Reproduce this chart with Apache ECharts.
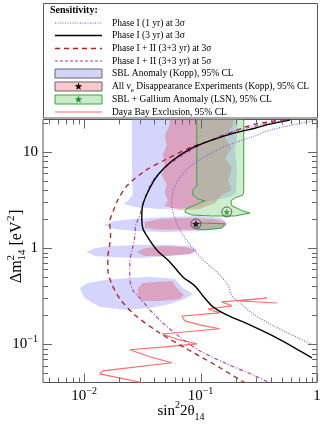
<!DOCTYPE html>
<html>
<head>
<meta charset="utf-8">
<script src="https://cdn.jsdelivr.net/npm/echarts@6/dist/echarts.min.js"></script>
<style>
html, body { margin: 0; padding: 0; background: #fff; }
#chart { width: 324px; height: 425px; }
</style>
</head>
<body>
<div id="chart"></div>
<script>
// axis ranges
const xMin = 0.00444, xMax = 1;
const yMin = 0.04, yMax = 21.8;

// tick values
const xMajorTicks = [0.01, 0.1, 1];
const xMinorTicks = [0.005, 0.006, 0.007, 0.008, 0.009, 0.02, 0.03, 0.04, 0.05, 0.06, 0.07, 0.08, 0.09,
  0.2, 0.3, 0.4, 0.5, 0.6, 0.7, 0.8, 0.9];
const yMajorTicks = [0.1, 1, 10];
const yMinorTicks = [0.05, 0.06, 0.07, 0.08, 0.09, 0.2, 0.3, 0.4, 0.5, 0.6, 0.7, 0.8, 0.9,
  2, 3, 4, 5, 6, 7, 8, 9, 20];

// sensitivity curves [sin^2 2theta, dm^2]
const phase1yr1 = [[1.0, 21.5], [0.671, 19.5], [0.394, 16.9], [0.293, 14.7], [0.172, 11.8], [0.116, 9.31],
  [0.0841, 7.33], [0.0664, 5.37], [0.0578, 3.93], [0.0567, 2.81], [0.0601, 2.06], [0.069, 1.44],
  [0.0841, 1.03], [0.105, 0.753], [0.138, 0.566], [0.172, 0.414], [0.186, 0.318], [0.218, 0.269],
  [0.282, 0.207], [0.394, 0.163], [0.585, 0.128], [0.923, 0.0986]];
const phase1yr3 = [[0.585, 21.5], [0.394, 19.5], [0.293, 17.7], [0.197, 15.8], [0.125, 13.3], [0.0841, 11.0],
  [0.0567, 8.06], [0.043, 5.77], [0.0367, 4.23], [0.0319, 2.81], [0.0313, 2.06], [0.0319, 1.62],
  [0.0346, 1.34], [0.0421, 0.957], [0.0545, 0.719], [0.0705, 0.502], [0.0893, 0.405], [0.105, 0.318],
  [0.128, 0.245], [0.168, 0.202], [0.265, 0.159], [0.418, 0.122], [0.621, 0.094], [0.904, 0.0723]];
const phase12sig3 = [[0.53, 21.8], [0.293, 19.5], [0.226, 17.7], [0.141, 14.0], [0.0841, 11.3], [0.0493, 8.26],
  [0.0332, 6.34], [0.0233, 4.44], [0.0195, 3.17], [0.0177, 2.38], [0.0166, 1.87], [0.0169, 1.37],
  [0.0166, 1.08], [0.016, 0.811], [0.016, 0.593], [0.0173, 0.425], [0.0203, 0.297], [0.0273, 0.202],
  [0.043, 0.135], [0.0733, 0.0918], [0.133, 0.0611], [0.24, 0.0397]];
const phase12sig5 = [[0.528, 21.5], [0.293, 18.6], [0.197, 16.5], [0.133, 14.0], [0.0893, 11.0], [0.0642, 8.67],
  [0.0493, 6.82], [0.0389, 5.0], [0.0332, 3.33], [0.0301, 2.21], [0.0278, 1.74], [0.0273, 1.31],
  [0.0262, 1.03], [0.0247, 0.701], [0.0247, 0.49], [0.0262, 0.367], [0.0301, 0.303], [0.0367, 0.228],
  [0.0474, 0.167], [0.0664, 0.119], [0.0986, 0.0853], [0.168, 0.0625], [0.281, 0.0481], [0.378, 0.0406]];
const dayaBay = [[0.0313, 0.04], [0.0136, 0.0492], [0.0145, 0.0528], [0.0566, 0.0641], [0.0367, 0.074],
  [0.0247, 0.0875], [0.0493, 0.094], [0.0929, 0.101], [0.0664, 0.111], [0.0466, 0.128], [0.146, 0.145],
  [0.0986, 0.159], [0.0733, 0.175], [0.069, 0.197], [0.146, 0.212], [0.116, 0.233], [0.186, 0.251],
  [0.152, 0.276], [0.372, 0.303], [0.218, 0.282], [0.453, 0.269]];

// allowed regions (95% CL)
const sblRegions = [
  [[0.0257, 24.3], [0.0257, 8.26], [0.0262, 3.57], [0.0237, 3.1], [0.0219, 2.88], [0.0273, 2.68], [0.0447, 2.55],
   [0.0809, 2.62], [0.0986, 2.95], [0.133, 3.17], [0.179, 3.4], [0.201, 3.75], [0.205, 6.5], [0.197, 10.5],
   [0.209, 16.9], [0.205, 24.3]],
  [[0.0148, 1.74], [0.0184, 1.92], [0.0273, 2.01], [0.0493, 2.11], [0.0986, 2.16], [0.152, 2.06], [0.172, 1.79],
   [0.152, 1.58], [0.0986, 1.51], [0.0493, 1.47], [0.0273, 1.51], [0.0184, 1.58]],
  [[0.0105, 0.912], [0.0124, 1.0], [0.0166, 1.05], [0.0301, 1.08], [0.0545, 1.08], [0.0809, 1.05], [0.0948, 0.957],
   [0.0841, 0.87], [0.0545, 0.83], [0.0301, 0.791], [0.0166, 0.811], [0.0124, 0.83]],
  [[0.00918, 0.386], [0.0108, 0.435], [0.0151, 0.467], [0.0247, 0.49], [0.0367, 0.502], [0.0601, 0.479],
   [0.069, 0.395], [0.0859, 0.334], [0.0733, 0.296], [0.0545, 0.263], [0.0367, 0.239], [0.0224, 0.228],
   [0.0136, 0.245], [0.0101, 0.303]]
];
const nueRegions = [
  [[0.0545, 24.3], [0.0545, 19.1], [0.0493, 15.0], [0.0513, 11.8], [0.0474, 9.31], [0.0493, 7.33], [0.0465, 5.77],
   [0.0513, 4.54], [0.0493, 3.84], [0.0523, 3.1], [0.0493, 2.75], [0.0664, 2.49], [0.0986, 2.55], [0.133, 2.95],
   [0.152, 3.57], [0.186, 4.03], [0.172, 5.0], [0.186, 6.82], [0.162, 8.67], [0.186, 11.0], [0.162, 14.0],
   [0.19, 19.1], [0.197, 24.3]],
  [[0.0332, 1.87], [0.0447, 2.01], [0.0809, 2.06], [0.133, 2.01], [0.162, 1.87], [0.165, 1.7], [0.133, 1.58],
   [0.0809, 1.55], [0.0447, 1.55], [0.0332, 1.62]],
  [[0.0284, 0.912], [0.0332, 1.0], [0.0493, 1.05], [0.0733, 1.03], [0.0912, 0.957], [0.0809, 0.87],
   [0.0493, 0.83], [0.0332, 0.83]],
  [[0.0289, 0.386], [0.0319, 0.435], [0.0447, 0.446], [0.0567, 0.456], [0.0625, 0.386], [0.0719, 0.327],
   [0.0664, 0.296], [0.0447, 0.282], [0.0313, 0.282], [0.0289, 0.318]]
];
const galRegions = [
  [[0.0929, 24.3], [0.0929, 4.44], [0.0859, 4.03], [0.0859, 3.57], [0.0948, 3.25], [0.109, 3.1], [0.0893, 2.81],
   [0.0748, 2.55], [0.0733, 2.38], [0.0841, 2.21], [0.125, 2.16], [0.197, 2.16], [0.265, 2.32], [0.231, 2.44],
   [0.186, 2.75], [0.182, 3.1], [0.197, 3.33], [0.231, 3.57], [0.235, 3.93], [0.235, 24.3]],
  [[0.0875, 1.74], [0.0986, 1.83], [0.162, 1.79], [0.152, 1.62], [0.109, 1.55], [0.0929, 1.58]]
];

// best-fit points
const bestFitNue = [[0.0912, 1.79]];
const bestFitGal = [[0.168, 2.38]];

const FONT = 'Liberation Serif';

function starPoints(cx, cy, r) {
  const pts = [];
  for (let i = 0; i < 10; i++) {
    const rr = i % 2 ? r * 0.42 : r;
    const a = -Math.PI / 2 + i * Math.PI / 5;
    pts.push([cx + rr * Math.cos(a), cy + rr * Math.sin(a)]);
  }
  return pts;
}
const starSymbol = 'path://' + starPoints(0, 0, 1)
  .map((p, i) => (i ? 'L' : 'M') + p[0].toFixed(3) + ' ' + p[1].toFixed(3)).join('') + 'Z';

function powLabel(v) {
  const l = Math.log10(v);
  const e = Math.round(l);
  if (Math.abs(l - e) > 1e-6) return '';
  if (e === 0) return '{b|1}';
  if (e === 1) return '{b|10}';
  return '{b|10}{s|' + (e < 0 ? '\u2212' + (-e) : e) + '}';
}
const labelRich = {
  b: { fontFamily: FONT, fontSize: 15, color: '#000', lineHeight: 20 },
  s: { fontFamily: FONT, fontSize: 10, color: '#000', lineHeight: 10, verticalAlign: 'top' }
};

function regionSeries(name, polys, fill, stroke, z) {
  return {
    type: 'custom', name: name, z: z, clip: true, silent: true,
    data: polys.map(p => p[0]),
    renderItem(params, api) {
      const pts = polys[params.dataIndex].map(p => api.coord(p));
      return {
        type: 'polygon', shape: { points: pts },
        style: { fill: fill, stroke: stroke || null, lineWidth: stroke ? 1 : 0 }
      };
    }
  };
}

function lineSeries(name, data, color, width, type, z) {
  return {
    type: 'line', name: name, data: data, z: z, showSymbol: false, smooth: 0.3, clip: true,
    lineStyle: { color: color, width: width, type: type }, silent: true
  };
}

const tickData = [];
xMajorTicks.forEach(v => tickData.push([v, yMin, 9, 0]));
xMinorTicks.forEach(v => tickData.push([v, yMin, 5, 0]));
yMajorTicks.forEach(v => tickData.push([xMax, v, 9, 1]));
yMinorTicks.forEach(v => tickData.push([xMax, v, 5, 1]));

const TICK = '#666';
const tickSeries = {
  type: 'custom', z: 10, silent: true, data: tickData,
  renderItem(params, api) {
    const cs = params.coordSys;
    const len = api.value(2);
    const tickStyle = { stroke: TICK, lineWidth: 1 };
    if (api.value(3) === 0) {
      const px = Math.round(api.coord([api.value(0), yMin])[0]) + 0.5;
      return { type: 'group', children: [
        { type: 'line', shape: { x1: px, y1: cs.y + cs.height, x2: px, y2: cs.y + cs.height - len }, style: tickStyle },
        { type: 'line', shape: { x1: px, y1: cs.y, x2: px, y2: cs.y + len }, style: tickStyle }
      ] };
    }
    const py = Math.round(api.coord([xMax, api.value(1)])[1]) + 0.5;
    return { type: 'group', children: [
      { type: 'line', shape: { x1: cs.x, y1: py, x2: cs.x + len, y2: py }, style: tickStyle },
      { type: 'line', shape: { x1: cs.x + cs.width, y1: py, x2: cs.x + cs.width - len, y2: py }, style: tickStyle }
    ] };
  }
};

// legend drawn as graphic elements
const C_DOT = '#8c52e6', C_BLK = '#000', C_RED = '#b41e1e', C_MAG = '#a03cb4', C_DB = '#ff6a6a';
const legendRows = [23, 35.5, 48.5, 61, 73.5, 86.5, 99.5, 112];
const legendText = [
  'Phase I (1 yr) at 3\u03c3',
  'Phase I (3 yr) at 3\u03c3',
  'Phase I + II (3+3 yr) at 3\u03c3',
  'Phase I + II (3+3 yr) at 5\u03c3',
  'SBL Anomaly (Kopp), 95% CL',
  '{t|All \u03bd}{u|e}{t| Disappearance Experiments (Kopp), 95% CL}',
  'SBL + Gallium Anomaly (LSN), 95% CL',
  'Daya Bay Exclusion, 95% CL'
];
const LFS = 9.5;
const lx0 = 55, lx1 = 102, tx = 112;
const g = [];
g.push({ type: 'rect', shape: { x: 43.5, y: 3.5, width: 274, height: 114.5 },
  style: { fill: '#fff', stroke: '#555', lineWidth: 1 }, z: 100 });
g.push({ type: 'text', x: 50, y: 10.5, z: 101,
  style: { text: 'Sensitivity:', fontFamily: FONT, fontSize: 10, fontWeight: 'bold', fill: '#000', verticalAlign: 'middle' } });
const legendLines = [
  [C_DOT, 1.2, [1, 1.5]], [C_BLK, 1.6, null], [C_RED, 1.4, [5, 4]], [C_MAG, 1.2, [3, 2]]
];
legendLines.forEach((s, i) => {
  g.push({ type: 'line', z: 101, shape: { x1: lx0, y1: legendRows[i], x2: lx1, y2: legendRows[i] },
    style: { stroke: s[0], lineWidth: s[1], lineDash: s[2] } });
});
g.push({ type: 'rect', z: 101, shape: { x: lx0, y: legendRows[4] - 4.5, width: lx1 - lx0, height: 9 },
  style: { fill: '#d4d4fb', stroke: '#666', lineWidth: 1 } });
g.push({ type: 'rect', z: 101, shape: { x: lx0, y: legendRows[5] - 4.5, width: lx1 - lx0, height: 9 },
  style: { fill: '#fbc8cf', stroke: '#666', lineWidth: 1 } });
g.push({ type: 'polygon', z: 102, shape: { points: starPoints((lx0 + lx1) / 2, legendRows[5], 4) },
  style: { fill: '#000' } });
g.push({ type: 'rect', z: 101, shape: { x: lx0, y: legendRows[6] - 4.5, width: lx1 - lx0, height: 9 },
  style: { fill: '#c9ebc9', stroke: '#3aa63a', lineWidth: 1 } });
g.push({ type: 'polygon', z: 102, shape: { points: starPoints((lx0 + lx1) / 2, legendRows[6], 4) },
  style: { fill: '#1c9a1c' } });
g.push({ type: 'line', z: 101, shape: { x1: lx0, y1: legendRows[7], x2: lx1, y2: legendRows[7] },
  style: { stroke: C_DB, lineWidth: 1.2 } });
legendText.forEach((t, i) => {
  g.push({ type: 'text', x: tx, y: legendRows[i], z: 101,
    style: { text: t, fontFamily: FONT, fontSize: LFS, fill: '#000', verticalAlign: 'middle',
      rich: { t: { fontFamily: FONT, fontSize: LFS, lineHeight: 14 },
              u: { fontFamily: FONT, fontSize: 7, lineHeight: 7, verticalAlign: 'bottom' } } } });
});

// axis titles
const ys = 16, yss = 11;
g.push({ type: 'group', x: 17, y: 246, rotation: Math.PI / 2, z: 50, children: [
  { type: 'text', x: -37, y: 0, style: { text: '\u0394m', fontFamily: FONT, fontSize: ys, fill: '#000', verticalAlign: 'middle' } },
  { type: 'text', x: -14.5, y: -6, style: { text: '2', fontFamily: FONT, fontSize: yss, fill: '#000', verticalAlign: 'middle' } },
  { type: 'text', x: -14.5, y: 5, style: { text: '14', fontFamily: FONT, fontSize: yss, fill: '#000', verticalAlign: 'middle' } },
  { type: 'text', x: 0.5, y: 0, style: { text: '[eV', fontFamily: FONT, fontSize: ys, fill: '#000', verticalAlign: 'middle' } },
  { type: 'text', x: 25, y: -6, style: { text: '2', fontFamily: FONT, fontSize: yss, fill: '#000', verticalAlign: 'middle' } },
  { type: 'text', x: 31, y: 0, style: { text: ']', fontFamily: FONT, fontSize: ys, fill: '#000', verticalAlign: 'middle' } }
] });
g.push({ type: 'text', x: 181, y: 411, z: 50, style: {
  text: '{n|sin}{p|2}{n|2\u03b8}{b|14}', align: 'center', verticalAlign: 'middle',
  rich: {
    n: { fontFamily: FONT, fontSize: 15, lineHeight: 22, fill: '#000' },
    p: { fontFamily: FONT, fontSize: 10, lineHeight: 10, verticalAlign: 'top', fill: '#000' },
    b: { fontFamily: FONT, fontSize: 10, lineHeight: 10, verticalAlign: 'bottom', fill: '#000' }
  } } });

const chart = echarts.init(document.getElementById('chart'), null, { renderer: 'canvas' });
chart.setOption({
  animation: false,
  backgroundColor: '#fff',
  grid: { left: 43, right: 7, top: 119.5, bottom: 42.5, show: true, borderColor: '#555', borderWidth: 1,
    backgroundColor: '#fff' },
  xAxis: {
    type: 'log', logBase: 10, min: xMin, max: xMax,
    axisLine: { show: false }, axisTick: { show: false }, splitLine: { show: false },
    axisLabel: { formatter: powLabel, rich: labelRich, margin: 4, showMinLabel: false, showMaxLabel: true, hideOverlap: false }
  },
  yAxis: {
    type: 'log', logBase: 10, min: yMin, max: yMax,
    axisLine: { show: false }, axisTick: { show: false }, splitLine: { show: false },
    axisLabel: { formatter: powLabel, rich: labelRich, margin: 5, showMinLabel: false, showMaxLabel: false, hideOverlap: false }
  },
  series: [
    regionSeries('SBL Anomaly (Kopp)', sblRegions, 'rgba(165,165,250,0.48)', null, 1),
    regionSeries('All nu_e Disappearance (Kopp)', nueRegions, 'rgba(226,110,130,0.48)', null, 2),
    regionSeries('SBL + Gallium (LSN)', galRegions, 'rgba(125,205,125,0.38)', '#3aa63a', 3),
    { type: 'line', name: 'Daya Bay', data: dayaBay, z: 4, showSymbol: false, clip: true, silent: true,
      lineStyle: { color: C_DB, width: 1.1 } },
    lineSeries('Phase I+II 3s', phase12sig3, C_RED, 1.3, [5, 4], 5),
    lineSeries('Phase I+II 5s', phase12sig5, C_MAG, 1.1, [4, 2, 1, 2], 5),
    lineSeries('Phase I 1yr', phase1yr1, C_DOT, 1.1, [1, 1.5], 5),
    lineSeries('Phase I 3yr', phase1yr3, C_BLK, 1.4, 'solid', 6),
    { type: 'scatter', data: bestFitNue, z: 7, symbol: 'circle', symbolSize: 10, silent: true,
      itemStyle: { color: 'rgba(0,0,0,0)', borderColor: '#444', borderWidth: 1 } },
    { type: 'scatter', data: bestFitNue, z: 8, symbol: starSymbol, symbolSize: 8, silent: true,
      itemStyle: { color: '#000' } },
    { type: 'scatter', data: bestFitGal, z: 7, symbol: 'circle', symbolSize: 10, silent: true,
      itemStyle: { color: 'rgba(0,0,0,0)', borderColor: '#444', borderWidth: 1 } },
    { type: 'scatter', data: bestFitGal, z: 8, symbol: starSymbol, symbolSize: 7, silent: true,
      itemStyle: { color: '#1c9a1c' } },
    tickSeries
  ],
  graphic: g
});
</script>
</body>
</html>
